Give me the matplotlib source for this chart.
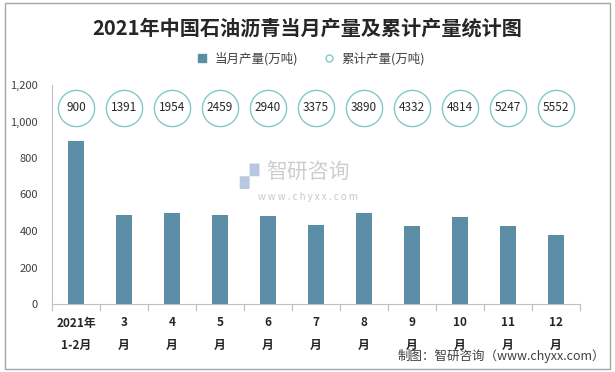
import matplotlib
matplotlib.use("Agg")
import matplotlib.pyplot as plt
from matplotlib.lines import Line2D
from matplotlib.patches import Rectangle

plt.rcParams['font.family'] = ['Noto Sans CJK SC', 'DejaVu Sans']

categories = ["2021年\n1-2月", "3\n月", "4\n月", "5\n月", "6\n月", "7\n月", "8\n月", "9\n月", "10\n月", "11\n月", "12\n月"]
monthly = [893, 488, 499, 488, 482, 433, 499, 427, 477, 427, 378]
cumulative = [900, 1391, 1954, 2459, 2940, 3375, 3890, 4332, 4814, 5247, 5552]
yticks = [0, 200, 400, 600, 800, 1000, 1200]

bar_color = "#5b8ea6"
circ_color = "#7ecbc4"

fig = plt.figure(figsize=(6.15, 3.72), dpi=100)
fig.patches.append(Rectangle((0.008, 0.008), 0.984, 0.984, transform=fig.transFigure,
                             fill=False, edgecolor="#a6a6a6", linewidth=1.0))
ax = fig.add_axes([52/615, 1-304/372, (580-52)/615, (304-85)/372])

x = list(range(len(categories)))
ax.bar(x, monthly, width=0.33, color=bar_color, zorder=2)
ax.set_xlim(-0.5, len(categories)-0.5)
ax.set_ylim(0, 1200)
ax.set_yticks(yticks)
ax.set_yticklabels([f"{v:,}" for v in yticks], fontsize=8, color="#404040")
ax.tick_params(axis='y', length=0, pad=10)
ax.set_xticks([i - 0.5 for i in range(len(categories)+1)], minor=False)
ax.set_xticklabels([])
ax.tick_params(axis='x', which='major', length=5, color="#bfbfbf", width=0.8)
ax.set_xticks(x, minor=True)
ax.set_xticklabels(categories, minor=True, fontsize=8.5, fontweight='bold', color="#262626", linespacing=1.9)
ax.tick_params(axis='x', which='minor', length=0, pad=9)
for s in ['top', 'right']:
    ax.spines[s].set_visible(False)
ax.spines['left'].set_color("#bfbfbf")
ax.spines['bottom'].set_color("#bfbfbf")

ytr = ax.get_xaxis_transform()
ax.scatter(x, [0.897]*len(x), s=680, facecolor="white", edgecolor=circ_color,
           linewidth=1.0, transform=ytr, zorder=3, clip_on=False)
for xi, c in zip(x, cumulative):
    ax.text(xi, 0.897, str(c), transform=ytr, ha='center', va='center', fontsize=8.5,
            color="#262626", zorder=4)

fig.text(0.5, 1-28/372, "2021年中国石油沥青当月产量及累计产量统计图", ha='center', va='center',
         fontsize=14.5, fontweight='bold', color="#262626")

handles = [Line2D([], [], marker='s', linestyle='none', markersize=6, markerfacecolor=bar_color,
                  markeredgecolor=bar_color),
           Line2D([], [], marker='o', linestyle='none', markersize=5, markerfacecolor='white',
                  markeredgecolor=circ_color)]
fig.legend(handles, ["当月产量(万吨)", "累计产量(万吨)"], loc='center', bbox_to_anchor=(0.5, 1-59/372),
           ncol=2, frameon=False, fontsize=9, handletextpad=0.0, columnspacing=1.5,
           labelcolor="#404040")

# watermark
fig.text(0.5, 1-172/372, "智研咨询", ha='center', va='center', fontsize=15, color="#c8c8c8", alpha=0.9)
fig.text(0.5, 1-197/372, "w w w . c h y x x . c o m", ha='center', va='center', fontsize=7, color="#c8c8c8")
fig.text(0.405, 1-176/372, "▞", ha='center', va='center', fontsize=18, color="#b8c8e0", family=['DejaVu Sans'])

fig.text(0.984, 1-356/372, "制图：智研咨询（www.chyxx.com）", ha='right', va='center', fontsize=9, color="#404040")

fig.savefig("out.png", dpi=100)
